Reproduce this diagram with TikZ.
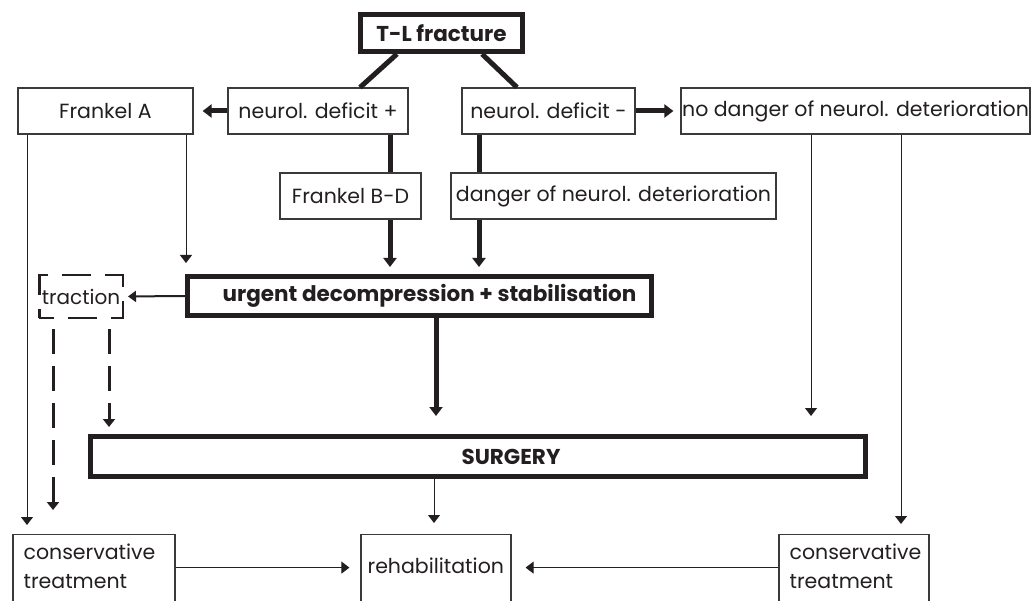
\documentclass[tikz,border=0pt]{standalone}
\usepackage{fontspec}
\setmainfont{Poppins}
\usetikzlibrary{arrows.meta}
\definecolor{ink}{HTML}{231F20}
\definecolor{rule}{HTML}{3A3A3A}

\begin{document}
\begin{tikzpicture}[x=1pt, y=-1pt,
    every node/.style={text=ink, inner sep=0, font=\fontsize{20.5}{29}\selectfont},
    box/.style={draw=rule, line width=1.2pt, minimum height=46},
    heavybox/.style={draw=ink, line width=5pt},
    dashbox/.style={draw=ink, line width=2.5pt, dash pattern=on 29pt off 14pt, dash phase=14.5pt},
    boldtext/.style={font=\fontsize{21.5}{29}\selectfont\bfseries},
    cornertext/.style={anchor=north west, align=left},
    link/.style={ink, line width=1pt, -{Triangle[width=12pt,length=8pt]}},
    midlink/.style={ink, line width=2pt, -{Triangle[width=11pt,length=8pt]}},
    heavylink/.style={ink, line width=5pt, -{Triangle[width=13pt,length=9pt]}},
    heavyline/.style={ink, line width=5pt},
    dashlink/.style={ink, line width=3pt, dash pattern=on 25pt off 12pt, dash phase=27pt,
      -{Triangle[width=12pt,length=8pt]}}]
  \fill[white] (0,0) rectangle (1032,601);
  \path[use as bounding box] (0,0) rectangle (1032,601);

  % top and first two rows
  \node[heavybox, boldtext, minimum width=162, minimum height=37] (frac) at (441.5,33) {T-L fracture};
  \node[box, minimum width=175] (fa) at (105.5,111) {Frankel A};
  \node[box, minimum width=180] (dplus) at (318,111) {neurol. deficit +};
  \node[box, minimum width=173] (dminus) at (548.5,111) {neurol. deficit -};
  \node[box, minimum width=349] (nodang) at (855.5,111) {no danger of neurol. deterioration};
  \node[box, minimum width=141] (fbd) at (350.5,196) {Frankel B-D};
  \node[box, minimum width=325] (dang) at (613.5,196) {danger of neurol. deterioration};

  % treatment boxes
  \node[heavybox, minimum width=464, minimum height=39,
    label={[boldtext, xshift=10pt]center:urgent decompression + stabilisation}] (urg) at (419.5,296) {};
  \node[dashbox, minimum width=83.5, minimum height=42.5,
    font=\fontsize{20}{29}\selectfont] (trac) at (81,296.5) {traction};
  \node[heavybox, minimum width=775, minimum height=40,
    label={[boldtext, xshift=33pt]center:SURGERY}] (surg) at (478,456.5) {};

  % bottom row (runs off the page)
  \node[box, minimum width=162, minimum height=80, anchor=north,
    label={[cornertext, xshift=11pt, yshift=-10pt]north west:conservative\\treatment}] (lcons) at (94,534) {};
  \node[box, minimum width=150, minimum height=80, anchor=north,
    label={[cornertext, xshift=7pt, yshift=-24pt]north west:rehabilitation}] (rehab) at (436,534) {};
  \node[box, minimum width=150, minimum height=80, anchor=north,
    label={[cornertext, xshift=11pt, yshift=-10pt]north west:conservative\\treatment}] (rcons) at (854,534) {};

  % from the fracture
  \draw[heavyline] ([xshift=-44.5pt]frac.south) -- ([xshift=42pt]dplus.north);
  \draw[heavyline] ([xshift=40.5pt]frac.south) -- ([xshift=-31.5pt]dminus.north);
  \draw[heavylink, shorten >=9pt] (dplus.west) -- (fa.east);
  \draw[heavylink, shorten >=7pt] (dminus.east) -- (nodang.west);
  \draw[heavyline] ([xshift=72pt]dplus.south) -- ([xshift=72pt]dplus.south |- fbd.north);
  \draw[heavyline] ([xshift=-69.5pt]dminus.south) -- ([xshift=-69.5pt]dminus.south |- dang.north);

  % into urgent decompression
  \draw[heavylink, shorten >=7pt] ([xshift=39.5pt]fbd.south) -- ([xshift=39.5pt]fbd.south |- urg.north);
  \draw[heavylink, shorten >=7pt] ([xshift=-134.5pt]dang.south) -- ([xshift=-134.5pt]dang.south |- urg.north);
  \draw[link, shorten >=11pt] ([xshift=80.5pt]fa.south) -- ([xshift=80.5pt]fa.south |- urg.north);
  \draw[midlink, shorten >=4pt] (urg.west) -- (trac.east);

  % into surgery
  \draw[heavylink, shorten >=18pt] ([xshift=16.5pt]urg.south) -- ([xshift=16.5pt]urg.south |- surg.north);
  \draw[dashlink, shorten >=7pt] ([xshift=28pt]trac.south) -- ([xshift=28pt]trac.south |- surg.north);
  \draw[link, shorten >=18pt] ([xshift=-44.5pt]nodang.south) -- ([xshift=-44.5pt]nodang.south |- surg.north);

  % into the bottom row
  \draw[link, shorten >=9pt] ([xshift=-78.5pt]fa.south) -- ([xshift=-78.5pt]fa.south |- lcons.north);
  \draw[dashlink, shorten >=24pt] ([xshift=-28pt]trac.south) -- ([xshift=-28pt]trac.south |- lcons.north);
  \draw[link, shorten >=11pt] ([xshift=-44pt]surg.south) -- ([xshift=-44pt]surg.south |- rehab.north);
  \draw[link, shorten >=10pt] ([xshift=45.5pt]nodang.south) -- ([xshift=45.5pt]nodang.south |- rcons.north);
  \draw[link, shorten >=11pt] ([yshift=7pt]lcons.east) -- ([yshift=7pt]lcons.east -| rehab.west);
  \draw[link, shorten >=14pt] ([yshift=7pt]rcons.west) -- ([yshift=7pt]rcons.west -| rehab.east);
\end{tikzpicture}
\end{document}
